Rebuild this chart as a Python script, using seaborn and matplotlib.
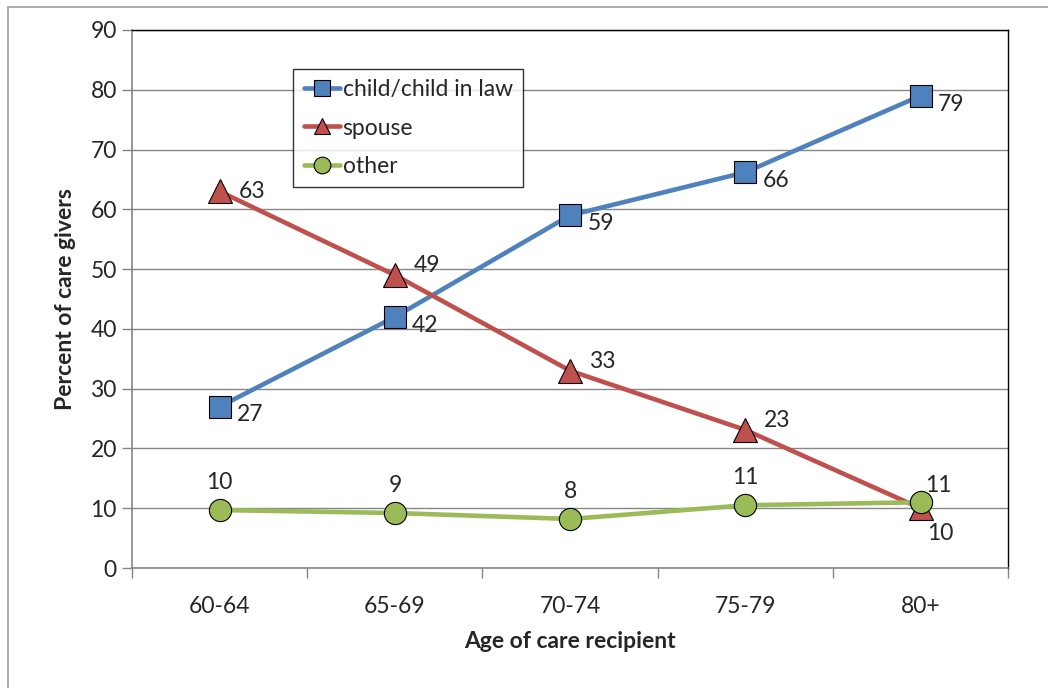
import matplotlib
matplotlib.use('Agg')
import matplotlib.pyplot as plt
from matplotlib.lines import Line2D
import pandas as pd
import seaborn as sns

ages = ['60-64', '65-69', '70-74', '75-79', '80+']
series_names = ['child/child in law', 'spouse', 'other']
child = [27.0, 42.0, 59.0, 66.2, 79.0]
spouse = [63.0, 49.0, 33.0, 23.1, 10.0]
other = [9.7, 9.2, 8.2, 10.5, 11.0]
child_labels = [27, 42, 59, 66, 79]
spouse_labels = [63, 49, 33, 23, 10]
other_labels = [10, 9, 8, 11, 11]

colors = ['#4F81BD', '#C0504D', '#9BBB59']
markers = ['s', '^', 'o']

rows = []
for name, vals in zip(series_names, [child, spouse, other]):
    for i, v in enumerate(vals):
        rows.append({'pos': i, 'value': v, 'series': name})
df = pd.DataFrame(rows)

sns.set_style('white')
plt.rcParams['font.family'] = ['Lato', 'DejaVu Sans']
FS = 16.5

fig = plt.figure(figsize=(10.48, 6.88), dpi=100)
ax = fig.add_axes([0.126, 0.1744, 0.836, 0.782])

for k, name in enumerate(series_names):
    sub = df[df['series'] == name]
    sns.lineplot(data=sub, x='pos', y='value', color=colors[k], marker=markers[k],
                 markersize=16 if markers[k] != '^' else 17, markeredgecolor='black',
                 markeredgewidth=0.8, linewidth=3.3, ax=ax, legend=False, zorder=3 + k)

# data labels (offsets in points)
for i in range(len(ages)):
    ax.annotate(str(child_labels[i]), (i, child[i]), xytext=(22, -6), textcoords='offset points',
                ha='center', va='center', fontsize=FS)
    sp_off = (23, 0) if i == 0 else (23, 7)
    if i == 4:
        sp_off = (14, -18)
    ax.annotate(str(spouse_labels[i]), (i, spouse[i]), xytext=sp_off, textcoords='offset points',
                ha='center', va='center', fontsize=FS)
    ot_off = (0, 20)
    if i == 4:
        ot_off = (13, 12)
    ax.annotate(str(other_labels[i]), (i, other[i]), xytext=ot_off, textcoords='offset points',
                ha='center', va='center', fontsize=FS)

ax.set_xlim(-0.5, 4.5)
ax.set_ylim(0, 90)
ax.set_yticks(range(0, 91, 10))
ax.set_xticks(range(len(ages)))
ax.set_xticklabels(ages)
ax.set_xticks([x - 0.5 for x in range(len(ages) + 1)], minor=True)
ax.tick_params(axis='x', which='major', length=0, pad=20, labelsize=FS)
ax.tick_params(axis='x', which='minor', length=7, color='#868686', width=1, direction='out', bottom=True)
ax.tick_params(axis='y', length=7, color='#868686', width=1, direction='out', left=True, labelsize=FS, pad=4)
ax.grid(axis='y', color='#868686', linewidth=1)
ax.set_axisbelow(True)

for side in ['left', 'bottom']:
    ax.spines[side].set_color('#868686')
    ax.spines[side].set_linewidth(1.2)
for side in ['top', 'right']:
    ax.spines[side].set_visible(True)
    ax.spines[side].set_color('black')
    ax.spines[side].set_linewidth(1)

ax.set_xlabel('Age of care recipient', fontsize=FS, fontweight='bold', labelpad=10)
ax.set_ylabel('Percent of care givers', fontsize=FS, fontweight='bold', labelpad=10)

handles = [Line2D([0], [0], color=colors[k], marker=markers[k], markersize=12,
                  markeredgecolor='black', markeredgewidth=0.8, linewidth=3.3)
           for k in range(3)]
leg = ax.legend(handles, series_names, loc='upper left', bbox_to_anchor=(0.184, 0.9275),
                borderaxespad=0, fontsize=FS, frameon=True, fancybox=False, handlelength=1.6,
                handletextpad=0.1, labelspacing=0.75, borderpad=0.45)
leg.get_frame().set_edgecolor('black')
leg.get_frame().set_linewidth(1)

# outer chart border (top and left visible)
fig.add_artist(Line2D([8 / 1048, 8 / 1048], [0, 1 - 7 / 688], color='#A0A0A0', linewidth=1.2,
                      transform=fig.transFigure))
fig.add_artist(Line2D([8 / 1048, 1], [1 - 7 / 688, 1 - 7 / 688], color='#A0A0A0', linewidth=1.2,
                      transform=fig.transFigure))

fig.savefig('out.png', dpi=100)
